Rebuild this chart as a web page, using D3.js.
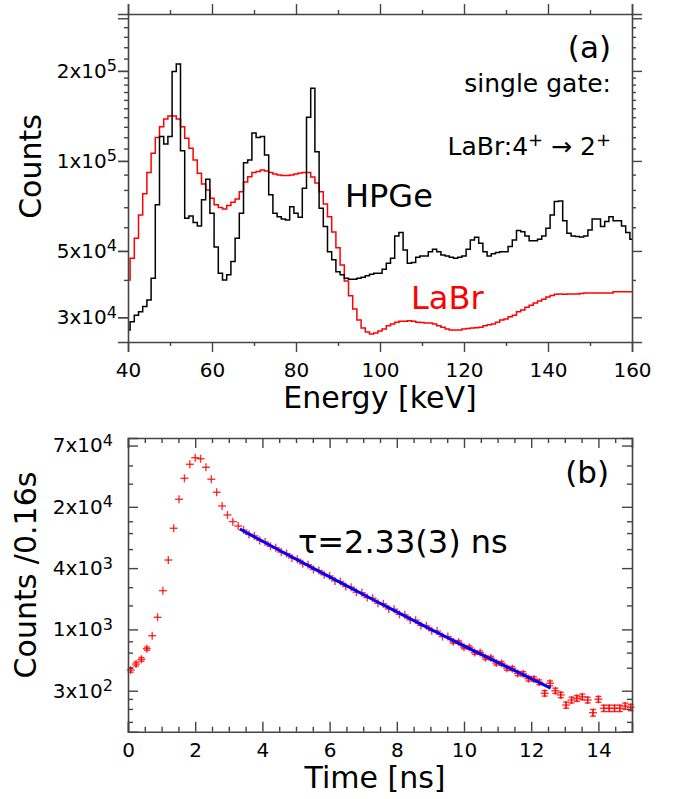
<!DOCTYPE html>
<html>
<head>
<meta charset="utf-8">
<script src="https://cdn.jsdelivr.net/npm/d3@7"></script>
<style>
  body { margin: 0; background: #fff; }
  svg { font-family: 'DejaVu Sans', sans-serif; }
</style>
</head>
<body>
<div id="container"></div>
<script>
// panel (a): gated energy spectra, 1 keV bins centred on 40..160 keV
const energyBins = d3.range(40, 161);
const hpgeCounts = [
  27200, 29000, 30500, 31300, 32600, 34300, 40500, 71300, 120600, 114000,
  120600, 199000, 211000, 108200, 64300, 65500, 62200, 60600, 74100, 86800,
  66900, 51500, 42100, 40000, 41600, 46100, 55100, 66900, 98700, 100800,
  124100, 119700, 120600, 104700, 77000, 66900, 65100, 64000, 63500, 70300,
  66900, 64800, 81000, 140000, 175100, 107400, 69500, 60300, 49700, 46700,
  42600, 41600, 40500, 40200, 40200, 40500, 40800, 41300, 41800, 42100,
  42100, 43400, 45500, 47300, 56100, 57600, 50400, 45500, 45700, 47600,
  48100, 48100, 49700, 50700, 49700, 48500, 48100, 47600, 47300, 47600,
  48100, 50700, 54400, 55600, 53100, 49700, 48100, 48900, 49400, 49700,
  49700, 51700, 54400, 58500, 58000, 56100, 54100, 54100, 54700, 56100,
  59600, 66000, 73100, 73500, 63100, 57300, 56100, 55900, 55700, 56100,
  58800, 64000, 64000, 60300, 62700, 65100, 63100, 63100, 60600, 57600,
  54700
];
const labrCounts = [
  40000, 47300, 55100, 66000, 77600, 91400, 106100, 119700, 130200, 138200,
  141400, 141400, 138200, 130200, 119100, 110300, 100800, 91000, 83800, 80000,
  75000, 71300, 69800, 69100, 70900, 72700, 74600, 78800, 85100, 88600,
  91400, 92100, 93300, 92600, 91400, 90500, 89800, 89400, 89400, 89800,
  90500, 91200, 91500, 91500, 88400, 84400, 78800, 71800, 65000, 57900,
  51200, 44900, 39700, 35400, 32000, 29400, 27600, 26800, 26400, 26600,
  27000, 27400, 28100, 28500, 28900, 29100, 29100, 29200, 29100, 28900,
  28800, 28700, 28700, 28500, 28100, 27800, 27400, 27200, 27200, 27200,
  27400, 27500, 27600, 27700, 27800, 28100, 28300, 28500, 28900, 29400,
  29600, 30100, 30500, 31300, 31700, 32400, 32900, 33500, 34000, 34500,
  35100, 35500, 35800, 35900, 35800, 35900, 35900, 35900, 36000, 36200,
  36200, 36200, 36200, 36200, 36200, 36200, 36500, 36500, 36500, 36500,
  36500
];

// panel (b): time spectrum, 0.16 ns bins
const timeBins = d3.range(94).map((i) => 0.08 + 0.16 * i);
const timeCounts = [
  475, 543, 603, 764, 1020, 1536, 2776, 5490, 11130, 21200,
  33800, 46200, 53500, 52300, 43200, 33100, 24800, 18270, 14950, 12900,
  11700, 10700, 9700, 9400, 8500, 8200, 7450, 7200, 6550, 6350,
  5750, 5600, 5050, 4950, 4450, 4350, 3950, 3850, 3450, 3400,
  3050, 3000, 2680, 2650, 2380, 2350, 2100, 2070, 1850, 1840,
  1640, 1620, 1450, 1440, 1280, 1270, 1140, 1130, 1000, 1000,
  890, 885, 790, 785, 700, 700, 625, 620, 555, 550,
  495, 490, 440, 437, 392, 390, 362, 283, 354, 300,
  273, 218, 244, 253, 262, 244, 184, 248, 203, 203,
  203, 203, 213, 207
];
const fitTime = [3.33, 4.5, 6, 7.5, 9, 10.5, 12.58];
const fitCounts = [10950, 6830, 3770, 2100, 1180, 676, 317];

// ticks
const energyTicks = [40, 60, 80, 100, 120, 140, 160];
const energyMinor = [50, 70, 90, 110, 130, 150];
const countTicksA = [3e4, 5e4, 1e5, 2e5];
const countLabelsA = [['3', '4'], ['5', '4'], ['1', '5'], ['2', '5']];
const countMajorA = [3e4, 5e4, 1e5, 2e5, 3e5];
const countMinorA = [4e4, 6e4, 7e4, 8e4, 9e4, 1.1e5, 1.2e5, 1.3e5, 1.4e5, 1.5e5, 1.6e5, 1.7e5, 1.8e5, 1.9e5,
                     2.2e5, 2.4e5, 2.6e5, 2.8e5];
const timeTicks = [0, 2, 4, 6, 8, 10, 12, 14];
const timeMinor = [0.5, 1, 1.5, 2.5, 3, 3.5, 4.5, 5, 5.5, 6.5, 7, 7.5, 8.5, 9, 9.5, 10.5, 11, 11.5, 12.5, 13, 13.5, 14.5];
const countTicksB = [300, 1173, 4587, 17930, 70100];
const countLabelsB = [['3', '2'], ['1', '3'], ['4', '3'], ['2', '4'], ['7', '4']];
const countMinorB = [150, 200, 250, 500, 700, 900, 2000, 3000, 7000, 10000, 13000, 30000, 45000];

const width = 675;
const height = 799;
const axisColor = '#444';

const svg = d3.select('#container')
    .append('svg')
    .attr('width', width)
    .attr('height', height);

// scales
const xA = d3.scaleLinear().domain([40, 160]).range([128, 632]);
const yA = d3.scaleLog().domain([24800, 310000]).range([342, 14]);
const xB = d3.scaleLinear().domain([0, 15]).range([128, 632]);
const yB = d3.scaleLog().domain([120.5, 82900]).range([731.7, 438]);

// helper for one side of a frame
function side(axis, pos, values, size, labels, pad) {
    const g = svg.append('g')
        .attr('transform', pos)
        .call(axis.tickValues(values).tickSize(size).tickPadding(pad || 3)
            .tickFormat(labels ? null : ''));
    g.selectAll('line, path').attr('stroke', axisColor).attr('stroke-width', 1.4);
    g.select('.domain').attr('stroke-width', 1.6);
    g.selectAll('text').attr('fill', '#000').attr('font-size', 20)
        .attr('font-family', 'DejaVu Sans');
    return g;
}

function supLabels(g, labels) {
    g.selectAll('.tick text').each(function(d, i) {
        const t = d3.select(this).text('');
        t.append('tspan').text(labels[i][0] + 'x10');
        t.append('tspan').attr('dy', '-0.4em').attr('font-size', '0.8em').text(labels[i][1]);
    });
}

// ---- panel (a) ----
const stepLine = (xs, ys) => d3.line()
    .x((d, i) => xs(energyBins[i]))
    .y((d) => ys(d))
    .curve(d3.curveStep);

svg.append('path')
    .datum(labrCounts)
    .attr('d', stepLine(xA, yA))
    .attr('fill', 'none')
    .attr('stroke', '#ff0000')
    .attr('stroke-width', 1.5);

svg.append('path')
    .datum(hpgeCounts)
    .attr('d', stepLine(xA, yA))
    .attr('fill', 'none')
    .attr('stroke', '#000')
    .attr('stroke-width', 1.5);

// axes (a): ticks outside
side(d3.axisBottom(xA), 'translate(0,342)', energyTicks, 10, true, 11);
side(d3.axisBottom(xA), 'translate(0,342)', energyMinor, 4, false).select('.domain').remove();
side(d3.axisTop(xA), 'translate(0,14)', energyTicks, 10, false);
side(d3.axisTop(xA), 'translate(0,14)', energyMinor, 4, false).select('.domain').remove();
const leftA = side(d3.axisLeft(yA), 'translate(128,0)', countTicksA, 10, true, 1);
supLabels(leftA, countLabelsA);
side(d3.axisLeft(yA), 'translate(128,0)', countMajorA, 10, false).select('.domain').remove();
side(d3.axisLeft(yA), 'translate(128,0)', countMinorA, 4, false).select('.domain').remove();
side(d3.axisRight(yA), 'translate(632,0)', countMajorA, 10, false);
side(d3.axisRight(yA), 'translate(632,0)', countMinorA, 4, false).select('.domain').remove();

// texts (a)
svg.append('text').attr('x', 380).attr('y', 408).attr('text-anchor', 'middle')
    .attr('font-size', 30).text('Energy [keV]');
svg.append('text').attr('transform', 'translate(41,166.5) rotate(-90)').attr('text-anchor', 'middle')
    .attr('font-size', 30).text('Counts');
svg.append('text').attr('x', 611).attr('y', 58).attr('text-anchor', 'end')
    .attr('font-size', 31).text('(a)');
svg.append('text').attr('x', 611).attr('y', 92).attr('text-anchor', 'end')
    .attr('font-size', 25).text('single gate:');
const gate = svg.append('text').attr('x', 611).attr('y', 155).attr('text-anchor', 'end')
    .attr('font-size', 25);
gate.append('tspan').text('LaBr:4');
gate.append('tspan').attr('dy', -9).attr('font-size', 18).text('+');
gate.append('tspan').attr('dy', 9).text(' \u2192 2');
gate.append('tspan').attr('dy', -9).attr('font-size', 18).text('+');
svg.append('text').attr('x', 345).attr('y', 207).attr('font-size', 32).text('HPGe');
svg.append('text').attr('x', 411).attr('y', 309).attr('font-size', 32)
    .attr('fill', '#ff0000').text('LaBr');

// ---- panel (b) ----
const pts = svg.append('g')
    .attr('stroke', '#ff0000')
    .attr('stroke-width', 1.4)
    .attr('stroke-opacity', 0.8);

timeCounts.forEach((c, i) => {
    const cx = xB(timeBins[i]);
    const cy = yB(c);
    // plus marker
    pts.append('line').attr('x1', cx - 4).attr('x2', cx + 4).attr('y1', cy).attr('y2', cy);
    pts.append('line').attr('x1', cx).attr('x2', cx).attr('y1', cy - 4).attr('y2', cy + 4);
    // statistical error bar with caps
    const lo = yB(c - Math.sqrt(c));
    const hi = yB(c + Math.sqrt(c));
    if (lo - hi > 3) {
        pts.append('line').attr('x1', cx).attr('x2', cx).attr('y1', hi).attr('y2', lo);
        pts.append('line').attr('x1', cx - 3).attr('x2', cx + 3).attr('y1', hi).attr('y2', hi);
        pts.append('line').attr('x1', cx - 3).attr('x2', cx + 3).attr('y1', lo).attr('y2', lo);
    }
});

svg.append('path')
    .datum(fitTime)
    .attr('d', d3.line().x((d) => xB(d)).y((d, i) => yB(fitCounts[i])).curve(d3.curveMonotoneX))
    .attr('fill', 'none')
    .attr('stroke', '#0000ff')
    .attr('stroke-width', 3);

// axes (b): ticks inside
side(d3.axisBottom(xB), 'translate(0,731.7)', timeTicks, -10, true, 11);
side(d3.axisBottom(xB), 'translate(0,731.7)', timeMinor, -5, false).select('.domain').remove();
side(d3.axisTop(xB), 'translate(0,438)', timeTicks, -10, false);
side(d3.axisTop(xB), 'translate(0,438)', timeMinor, -5, false).select('.domain').remove();
const leftB = side(d3.axisLeft(yB), 'translate(128,0)', countTicksB, -10, true, 15);
supLabels(leftB, countLabelsB);
side(d3.axisLeft(yB), 'translate(128,0)', countMinorB, -5, false).select('.domain').remove();
side(d3.axisRight(yB), 'translate(632,0)', countTicksB, -10, false);
side(d3.axisRight(yB), 'translate(632,0)', countMinorB, -5, false).select('.domain').remove();

// texts (b)
svg.append('text').attr('x', 375).attr('y', 788).attr('text-anchor', 'middle')
    .attr('font-size', 30).text('Time [ns]');
svg.append('text').attr('transform', 'translate(36,575) rotate(-90)').attr('text-anchor', 'middle')
    .attr('font-size', 30).text('Counts /0.16s');
svg.append('text').attr('x', 609).attr('y', 483).attr('text-anchor', 'end')
    .attr('font-size', 31).text('(b)');
svg.append('text').attr('x', 298).attr('y', 553).attr('font-size', 32).text('\u03c4=2.33(3) ns');
</script>
</body>
</html>
